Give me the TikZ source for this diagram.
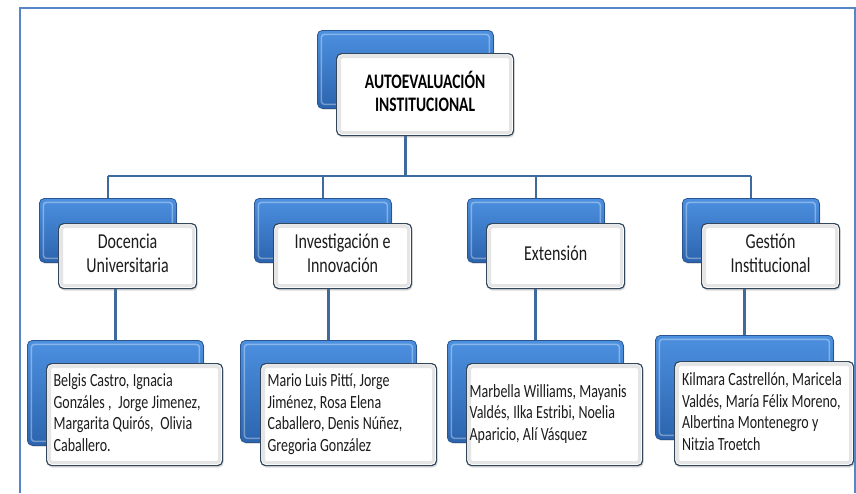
\documentclass[tikz,border=0pt]{standalone}
\usepackage{fontspec}
\usepackage{graphicx}
\setmainfont{Carlito}
\usetikzlibrary{backgrounds,shadows}
\definecolor{framecol}{HTML}{5587C6}
\definecolor{conncol}{HTML}{3E6A9E}
\definecolor{blueTop}{HTML}{4C90E0}
\definecolor{blueMid}{HTML}{3A7BCB}
\definecolor{blueBot}{HTML}{2C64AE}
\definecolor{blueDraw}{HTML}{2A5592}
\definecolor{frontDraw}{HTML}{33475C}
\definecolor{txt}{HTML}{1C1C1C}
\newcommand\vstr[1]{\scalebox{1}[1.33]{#1}}
\tikzset{
  backbox/.style={anchor=north west, inner sep=0pt, rounded corners=5pt,
    draw=blueDraw, line width=0.8pt, top color=blueTop, middle color=blueMid, bottom color=blueBot,
    drop shadow={opacity=0.25, shadow xshift=1pt, shadow yshift=-1.5pt},
    path picture={\draw[white, opacity=0.35, line width=1.5pt, rounded corners=3pt]
      ([shift={(4pt,-4pt)}]path picture bounding box.north west) rectangle
      ([shift={(-4pt,4pt)}]path picture bounding box.south east);}},
  frontbox/.style={anchor=north west, inner sep=0pt, rounded corners=5pt,
    draw=frontDraw, line width=1.2pt, fill=white, text=txt,
    drop shadow={opacity=0.3, shadow xshift=1pt, shadow yshift=-2pt},
    path picture={\draw[black!10, line width=3pt, rounded corners=3pt]
      ([shift={(3pt,-3pt)}]path picture bounding box.north west) rectangle
      ([shift={(-3pt,3pt)}]path picture bounding box.south east);}},
  conn/.style={draw=conncol, line width=2.6pt},
  frameline/.style={draw=framecol, line width=2.6pt},
}
\newcommand\toptext[1]{\vstr{\fontsize{15.5}{17.3}\selectfont\bfseries\begin{tabular}{@{}c@{}}#1\end{tabular}}}
\newcommand\midtext[1]{\vstr{\fontsize{16}{18}\selectfont\begin{tabular}{@{}c@{}}#1\end{tabular}}}
\newcommand\lowtext[1]{\vstr{\fontsize{14}{16.5}\selectfont\begin{tabular}{@{}l@{}}#1\end{tabular}}}
\begin{document}
\begin{tikzpicture}[x=1pt,y=-1pt]
\useasboundingbox (0,0) rectangle (856,493);

% top
\node[backbox, minimum width=176pt, minimum height=78pt] (tb) at (317,30) {};
\node[frontbox, minimum width=177pt, minimum height=82pt, text=black] (t) at (336,53)
  {\toptext{AUTOEVALUACIÓN\\INSTITUCIONAL}};

% level 2
\node[backbox, minimum width=137pt, minimum height=64pt] (b1) at (39,198) {};
\node[frontbox, minimum width=138pt, minimum height=65pt] (c1) at (58,223) {\midtext{Docencia\\Universitaria}};
\node[backbox, minimum width=137pt, minimum height=64pt] (b2) at (254,198) {};
\node[frontbox, minimum width=138pt, minimum height=65pt] (c2) at (273,223) {\midtext{Investigación e\\Innovación}};
\node[backbox, minimum width=137pt, minimum height=64pt] (b3) at (467,198) {};
\node[frontbox, minimum width=138pt, minimum height=65pt] (c3) at (486,223) {\midtext{Extensión}};
\node[backbox, minimum width=137pt, minimum height=64pt] (b4) at (682,198) {};
\node[frontbox, minimum width=138pt, minimum height=65pt] (c4) at (701,223) {\midtext{Gestión\\Institucional}};

% level 3
\tikzset{lowfront/.style={frontbox, minimum width=176pt, text width=162pt, inner xsep=7pt, align=left, minimum height=102pt}}
\node[backbox, minimum width=176pt, minimum height=105pt] (m1) at (27,340) {};
\node[lowfront] (n1) at (46,363) {\lowtext{Belgis Castro, Ignacia\\Gonzáles , \ Jorge Jimenez,\\Margarita Quirós, \ Olivia\\Caballero.}};
\node[backbox, minimum width=176pt, minimum height=102pt] (m2) at (240,340) {};
\node[lowfront] (n2) at (260,363) {\lowtext{Mario Luis Pittí, Jorge\\Jiménez, Rosa Elena\\Caballero, Denis Núñez,\\Gregoria González}};
\node[backbox, minimum width=176pt, minimum height=102pt] (m3) at (447,340) {};
\node[lowfront, inner xsep=3pt, text width=170pt] (n3) at (466,363) {\lowtext{Marbella Williams, Mayanis\\Valdés, Ilka Estribi, Noelia\\Aparicio, Alí Vásquez}};
\node[backbox, minimum width=178pt, minimum height=104pt] (m4) at (655,335) {};
\node[lowfront, minimum width=179pt, minimum height=104pt, text width=164pt] (n4) at (674,361) {\lowtext{Kilmara Castrellón, Maricela\\Valdés, María Félix Moreno,\\Albertina Montenegro y\\Nitzia Troetch}};

\coordinate (bus) at (0,176);
\begin{scope}[on background layer]
  \fill[white] (0,0) rectangle (856,493);
  \draw[conn] (tb.south) -- (tb.south |- bus);
  \draw[conn] (b1.north |- bus) -- (b4.north |- bus);
  \foreach \i in {1,2,3,4} {
    \draw[conn] (b\i.north |- bus) -- (b\i.north);
    \draw[conn] (m\i.north |- c\i.center) -- (m\i.north);
  }
\end{scope}
\draw[frameline] (20,493) -- (20,8) -- (855,8) -- (855,493);
\end{tikzpicture}
\end{document}
